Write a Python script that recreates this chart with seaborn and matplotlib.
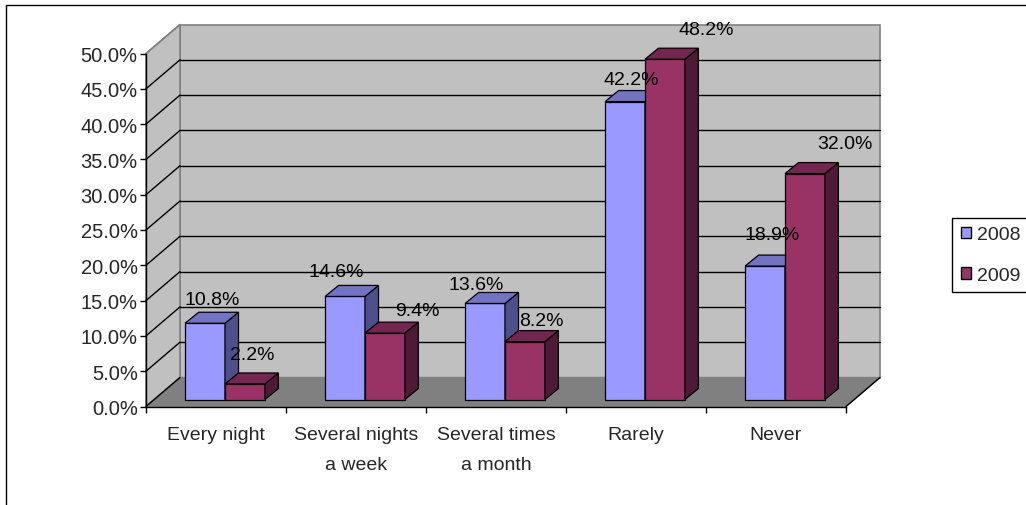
import numpy as np
import pandas as pd
import matplotlib
matplotlib.use("Agg")
import matplotlib.pyplot as plt
import matplotlib.transforms as mtrans
from matplotlib.patches import Polygon, Rectangle
import seaborn as sns

# ---- data ----
categories = ["Every night", "Several nights\na week", "Several times\na month", "Rarely", "Never"]
series_names = ["2008", "2009"]
values_2008 = [10.8, 14.6, 13.6, 42.2, 18.9]
values_2009 = [2.2, 9.4, 8.2, 48.2, 32.0]
y_ticks = [0, 5, 10, 15, 20, 25, 30, 35, 40, 45, 50]

# ---- styles ----
front_colors = ["#9999FF", "#993366"]
side_colors = ["#4F4F8C", "#4E1A36"]
top_colors = ["#7373C4", "#732650"]
# label offsets in pixels relative to bar top centre (Excel 3D placement)
label_offsets = [
    [(7, 24), (-9, 25), (-9, 19), (6, 22), (7, 32)],
    [(7, 29), (32, 23), (16, 21), (41, 30), (40, 30)],
]

df = pd.DataFrame({
    "category": categories * 2,
    "year": [series_names[0]] * len(categories) + [series_names[1]] * len(categories),
    "value": values_2008 + values_2009,
})

sns.set_style("white")
plt.rcParams["font.family"] = ["Liberation Sans", "DejaVu Sans"]

W, H = 1026, 506
fig = plt.figure(figsize=(W / 100, H / 100), dpi=100)
ax = fig.add_axes([146 / W, (H - 407.5) / H, 700 / W, 353 / H])
ax.set_facecolor("none")

sns.barplot(data=df, x="category", y="value", hue="year", order=categories,
            hue_order=series_names, palette=front_colors, width=0.57,
            edgecolor="black", linewidth=0.9, saturation=1, errorbar=None,
            legend=False, ax=ax)

ax.set_xlim(-0.5, len(categories) - 0.5)
ax.set_ylim(0, 50)


def px(dx, dy):
    return mtrans.ScaledTranslation(dx / 100, dy / 100, fig.dpi_scale_trans)


DX, DY = 34, 29
front = ax.transData
back = ax.transData + px(DX, DY)
inv = fig.transFigure.inverted()
x0, x1 = -0.5, len(categories) - 0.5


def figpoly(pts, **kw):
    p = Polygon(inv.transform(np.array(pts)), closed=True, transform=fig.transFigure,
                clip_on=False, **kw)
    ax.add_artist(p)
    return p


def line(p, q, color, zorder=0.6):
    pts = inv.transform(np.array([p, q]))
    ax.add_artist(plt.Line2D(pts[:, 0], pts[:, 1], transform=fig.transFigure,
                             color=color, lw=1, zorder=zorder, clip_on=False))


# back wall
figpoly([back.transform((x0, 0)), back.transform((x1, 0)),
         back.transform((x1, 50)), back.transform((x0, 50))],
        facecolor="#C0C0C0", edgecolor="#808080", lw=1.2, zorder=0.1)
# left wall
figpoly([front.transform((x0, 0)), front.transform((x0, 50)),
         back.transform((x0, 50)), back.transform((x0, 0))],
        facecolor="#C0C0C0", edgecolor="#808080", lw=1.2, zorder=0.1)
# floor
figpoly([front.transform((x0, 0)), front.transform((x1, 0)),
         back.transform((x1, 0)), back.transform((x0, 0))],
        facecolor="#808080", edgecolor="#808080", lw=1, zorder=0.2)
line(front.transform((x1, 0)), back.transform((x1, 0)), "black")

# gridlines
for t in y_ticks:
    c = "#808080" if t == 50 else "black"
    line(front.transform((x0, t)), back.transform((x0, t)), c)
    if 0 < t < 50:
        line(back.transform((x0, t)), back.transform((x1, t)), "black")

# bars with 3D faces
BDX, BDY = 13.5, 11
bar_tr = ax.transData + px(9, 7)
for j, cont in enumerate(ax.containers):
    vals = values_2008 if j == 0 else values_2009
    for i, bar in enumerate(cont):
        bar.set_transform(bar_tr)
        bar.set_zorder(3 + j)
        bar.set_clip_on(False)
        xb, w, h = bar.get_x(), bar.get_width(), bar.get_height()
        tl = np.array(bar_tr.transform((xb, h)))
        tr = np.array(bar_tr.transform((xb + w, h)))
        br = np.array(bar_tr.transform((xb + w, 0)))
        d = np.array([BDX, BDY])
        figpoly([tr, br, br + d, tr + d], facecolor=side_colors[j],
                edgecolor="black", lw=0.9, zorder=3.1 + j)
        figpoly([tl, tr, tr + d, tl + d], facecolor=top_colors[j],
                edgecolor="black", lw=0.9, zorder=3.1 + j)
        dx, dy = label_offsets[j][i]
        ax.annotate(f"{vals[i]:.1f}%", xy=(xb + w / 2, h), xycoords=bar_tr,
                    xytext=(dx * 0.72, dy * 0.72), textcoords="offset points",
                    ha="center", va="center", fontsize=14, color="black",
                    zorder=10, annotation_clip=False)

# axes, ticks
for s in ["top", "right"]:
    ax.spines[s].set_visible(False)
for s in ["left", "bottom"]:
    ax.spines[s].set_color("black")
    ax.spines[s].set_linewidth(1)
    ax.spines[s].set_zorder(2.5)

ax.set_yticks(y_ticks)
ax.set_yticklabels([f"{t:.1f}%" for t in y_ticks], fontsize=14.5)
ax.tick_params(axis="y", direction="out", length=4, width=1, pad=2, color="black",
               left=True)
ax.set_xticks(range(len(categories)))
ax.set_xticklabels(categories, fontsize=14, linespacing=2.0)
ax.set_xticks(np.arange(len(categories) + 1) - 0.5, minor=True)
ax.tick_params(axis="x", which="major", length=0, pad=14)
ax.tick_params(axis="x", which="minor", direction="out", length=4.5, width=1,
               color="black", bottom=True)
ax.set_xlabel("")
ax.set_ylabel("")
ax.grid(False)

# legend
handles = [Rectangle((0, 0), 1, 1, facecolor=c, edgecolor="black", lw=1)
           for c in front_colors]
leg = fig.legend(handles, series_names, loc="center left",
                 bbox_to_anchor=(952 / W, 1 - 256 / H), frameon=True, fancybox=False,
                 edgecolor="black", fontsize=14, handlelength=0.55, handleheight=0.55,
                 handletextpad=0.3, labelspacing=1.2, borderpad=0.45, borderaxespad=0,
                 framealpha=1)
leg.get_frame().set_linewidth(1)

# outer chart border (left and top visible)
fig.add_artist(Rectangle((5.5 / W, -0.05), 1.1, (H - 5.5) / H + 0.05,
                         transform=fig.transFigure, fill=False, edgecolor="black", lw=1))

fig.savefig("out.png", dpi=100)
